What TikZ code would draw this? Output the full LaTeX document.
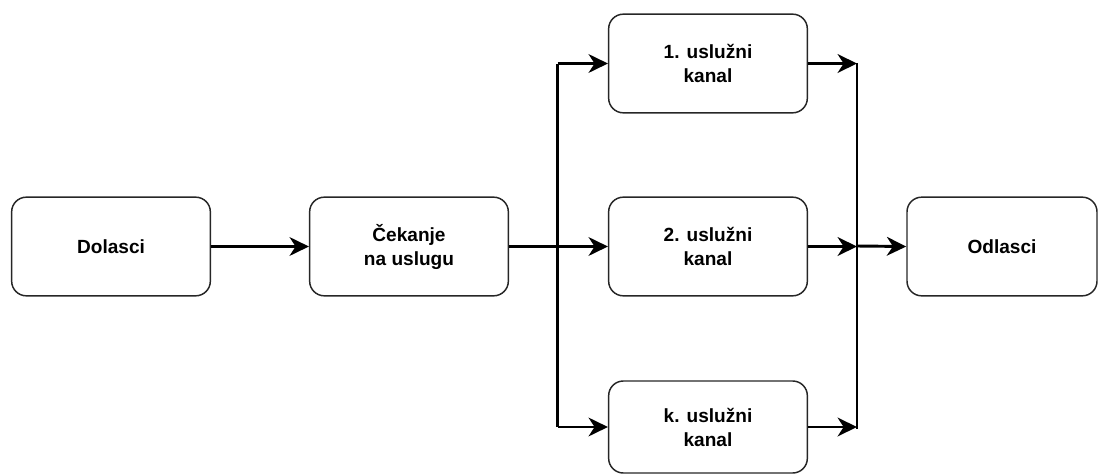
\documentclass[tikz,border=0pt]{standalone}
\usepackage{fontspec}
\setmainfont{Liberation Sans}
\usetikzlibrary{arrows.meta}
\begin{document}
\begin{tikzpicture}[x=0.75pt,y=-0.75pt,
  box/.style={draw=black!85, line width=1.1pt, rounded corners=11pt, minimum width=149pt, minimum height=74pt, align=center, font=\bfseries\fontsize{14.3}{18}\selectfont, inner sep=0pt},
  conn/.style={line width=2.2pt, line cap=butt},
  arr/.style={conn, -{Stealth[length=14.5pt, width=14pt, inset=4.5pt]}}]
\useasboundingbox (0,0) rectangle (1101,475);
\node[box] (dol) at (111,246.5) {Dolasci};
\node[box] (cek) at (409,246.5) {Čekanje\\ na uslugu};
\node[box] (c1) at (708,63.5) {1. uslužni\\kanal};
\node[box] (c2) at (708,246.5) {2. uslužni\\kanal};
\node[box, minimum height=69pt] (ck) at (708,427) {k. uslužni\\kanal};
\node[box, minimum width=142.5pt] (odl) at (1002,246.5) {Odlasci};
\coordinate (sp) at (557.5,246);
\coordinate (m1) at (857,63);
\coordinate (m2) at (857,246);
\coordinate (mk) at (857,429);
\draw[arr] (dol.east) -- (cek.west);
\draw[conn] (sp |- c1.west) -- (sp |- ck.west);
\draw[arr] (cek.east) -- (c2.west);
\draw[arr] (sp |- c1.west) -- (c1.west);
\draw[arr] (sp |- ck.west) -- (ck.west);
\draw[conn] (m1) -- (mk);
\draw[arr] (c1.east) -- (c1.east -| m1);
\draw[arr] (c2.east) -- (c2.east -| m2);
\draw[arr] (ck.east) -- (ck.east -| mk);
\draw[arr] (m2) -- (odl.west);
\end{tikzpicture}
\end{document}
